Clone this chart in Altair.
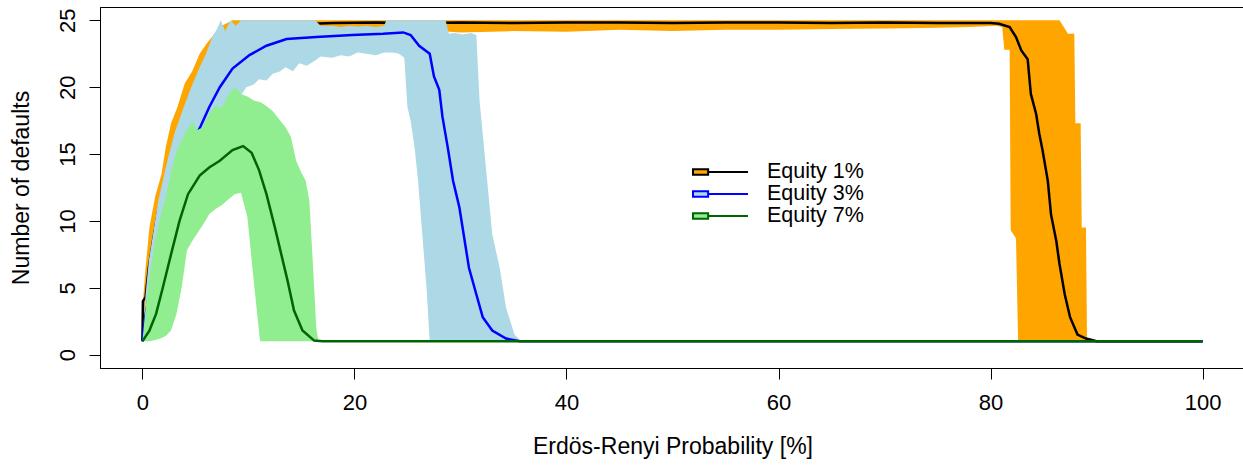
import altair as alt
import pandas as pd

SERIES = ["Equity 1%", "Equity 3%", "Equity 7%"]
BAND_COLORS = ["#FFA500", "#ADD8E6", "#90EE90"]
LINE_COLORS = ["#000000", "#0000FF", "#006400"]
X_TICKS = [0, 20, 40, 60, 80, 100]
Y_TICKS = [0, 5, 10, 15, 20, 25]
X_TITLE = "Erdös-Renyi Probability [%]"
Y_TITLE = "Number of defaults"

# ---- Equity 1% : band (orange) ----
eq1_band_x = [0, 0.05, 0.3, 0.66, 1.2, 1.8, 2.2, 2.7, 3.3, 4.0, 4.7, 5.4, 6.1, 6.8, 7.5, 8.5,
              10, 12, 14, 17, 20, 24, 28, 30, 35, 40, 45, 50, 55, 60, 65, 70, 75, 78, 80.5,
              81.1, 81.3, 81.8, 81.9, 82.4, 82.6, 86.5, 87.0, 87.3, 87.9, 88.0, 88.5, 88.6,
              89.0, 89.1, 100]
eq1_band_lo = [1, 1.5, 2, 3.5, 5, 7, 8.5, 10.5, 12.5, 15, 17, 18.5, 19.5, 20.5, 21.3, 22,
               22.8, 23.2, 23.5, 23.8, 24.0, 24.1, 24.2, 24.1, 24.2, 24.15, 24.3, 24.2, 24.3,
               24.3, 24.35, 24.4, 24.45, 24.5, 24.6,
               24.5, 22.8, 22.8, 9.3, 8.7, 1, 1, 1, 1, 1, 1, 1, 1,
               1, 1, 1]
eq1_band_hi = [1, 4, 6.5, 9.5, 11.8, 13.5, 15.5, 17.3, 18.5, 20.3, 21.2, 22.5, 23.3, 24.0, 24.6, 25,
               25, 25, 25, 25, 25, 25, 25, 25, 25, 25, 25, 25, 25, 25, 25, 25, 25, 25, 25,
               25, 25, 25, 25, 25, 25, 25, 24.4, 24.0, 24.0, 17.3, 17.3, 9.5,
               9.5, 1, 1]
# ---- Equity 1% : median line (black) ----
eq1_line_x = [0, 0.05, 0.3, 0.6, 1.0, 1.5, 2.2, 3.0, 3.8, 4.6, 5.4, 6.6, 7.4, 8.3, 9.0, 10,
              13, 16, 18, 22, 26, 30, 35, 40, 45, 50, 55, 60, 65, 70, 75, 80.0, 80.8, 81.8,
              82.4, 82.9, 83.5, 83.8, 84.3, 84.6, 84.9, 85.4, 85.7, 86.2, 86.5, 87.0, 87.5,
              88.2, 89.0, 90.0, 100]
eq1_line_y = [1, 4, 4.3, 6.5, 8.5, 10.8, 13.2, 16.0, 17.8, 19.5, 21.0, 23.0, 23.8, 24.1, 24.3, 24.4,
              24.6, 24.75, 24.8, 24.85, 24.8, 24.85, 24.8, 24.85, 24.85, 24.8, 24.85, 24.85, 24.8,
              24.85, 24.8, 24.8, 24.75, 24.5,
              23.75, 22.75, 22.1, 19.5, 18.0, 16.5, 15.3, 13.0, 10.5, 8.5, 6.8, 4.5, 2.8,
              1.5, 1.2, 1.0, 1.0]

# ---- Equity 3% : band (light blue) ----
eq3_band_x = [0, 0.3, 0.6, 1.0, 1.5, 2.2, 3.0, 3.8, 4.6, 5.4, 6.0, 6.6, 7.0, 7.4, 7.8, 8.3,
              8.8, 9.3, 9.8, 10.5, 11.0, 11.7, 12.3, 13.0, 13.5, 14.2, 14.8, 15.5, 16.3, 16.8,
              17.9, 18.7, 19.5, 20.3, 21.1, 22.0, 22.8, 23.0, 23.6, 24.2, 24.7, 25.0, 25.3,
              25.7, 26.0, 26.4, 26.8, 27.1, 28.6, 28.9, 29.5, 30.2, 31.0, 31.5, 31.8, 32.4,
              33.0, 33.7, 34.3, 35.1, 35.7, 100]
eq3_band_lo = [1, 1, 1.2, 1.5, 2, 3, 5, 8, 11, 13, 14.5, 15.5, 16.3, 17, 17.5, 18.3,
               18.8, 19.4, 20.0, 20.2, 20.6, 20.5, 21.0, 21.2, 21.5, 21.2, 21.8, 21.6, 22.0, 22.3,
               22.2, 22.4, 22.3, 22.6, 22.5, 22.4, 22.6, 22.6, 22.6, 22.5, 22.2, 18.5, 17.5,
               15.3, 13.0, 9.0, 5.0, 1.0, 1, 1, 1, 1, 1, 1, 1, 1,
               1, 1, 1, 1, 1, 1]
eq3_band_hi = [1, 4.5, 7, 9, 11.5, 14, 16.5, 18.3, 20.0, 21.5, 22.5, 23.8, 24.3, 25, 24.2, 25,
               24.6, 25, 25, 25, 25, 25, 25, 25, 25, 25, 25, 25, 25, 24.6,
               24.6, 24.5, 24.6, 24.55, 24.6, 24.5, 24.6, 25, 25, 25, 25, 25, 25,
               25, 25, 25, 25, 25, 25, 24.0, 24.05, 23.95, 24.05, 23.9, 19.0, 14.0,
               9.0, 6.5, 3.5, 1.5, 1.0, 1.0]
# ---- Equity 3% : median line (blue) ----
eq3_line_x = [0, 0.3, 1, 2, 3, 4, 5, 5.5, 6.3, 7.3, 8.5, 10.1, 11.7, 13.6, 16.4, 19.8, 22.7,
              24.6, 25.3, 26.1, 27.1, 27.5, 28.0, 28.3, 28.8, 29.3, 29.9, 30.4, 30.8, 31.5,
              32.1, 33.0, 34.3, 35.6, 100]
eq3_line_y = [1, 3, 6, 10, 12.5, 14.5, 16.3, 17.1, 18.5, 20.0, 21.4, 22.4, 23.1, 23.6, 23.75, 23.9, 24.0,
              24.1, 23.9, 23.1, 22.5, 20.8, 19.8, 17.8, 15.5, 13.0, 11.0, 8.5, 6.5, 4.5,
              2.8, 1.8, 1.2, 1.0, 1.0]

# ---- Equity 7% : band (light green) ----
eq7_band_x = [0, 0.3, 0.7, 1.2, 1.7, 2.2, 2.7, 3.2, 3.7, 4.2, 4.7, 5.2, 5.7, 6.3, 6.9, 7.5,
              8.1, 8.7, 9.3, 9.9, 10.5, 11.1, 11.7, 12.3, 12.9, 13.5, 14.0, 14.5, 15.0, 15.4,
              15.75, 16.1, 16.4, 16.6, 100]
eq7_band_lo = [1, 1, 1, 1.1, 1.2, 1.4, 1.8, 3.0, 5.0, 7.8, 8.5, 9.1, 9.7, 10.5, 10.9, 11.2,
               11.6, 12.0, 12.1, 10.3, 5.5, 1.0, 1, 1, 1, 1, 1, 1, 1, 1,
               1, 1, 1, 1, 1]
eq7_band_hi = [1, 3.5, 6.0, 8.5, 10.3, 11.8, 13.6, 15.2, 16.0, 16.8, 17.4, 16.8, 17.0, 18.0, 18.6, 18.5,
               19.4, 20.0, 19.5, 19.3, 19.0, 18.9, 18.6, 18.2, 17.6, 17.0, 16.3, 14.5, 13.6, 13.0,
               11.5, 6.5, 2.0, 1.0, 1.0]
# ---- Equity 7% : median line (dark green) ----
eq7_line_x = [0, 0.66, 1.29, 1.92, 2.7, 3.5, 4.3, 5.4, 6.3, 7.3, 8.5, 9.5, 10.3, 11.0, 11.7,
              12.5, 13.1, 13.7, 14.3, 15.1, 16.2, 17, 100]
eq7_line_y = [1, 1.8, 3.05, 5.0, 7.5, 10.0, 12.0, 13.4, 14.0, 14.5, 15.3, 15.6, 15.1, 13.8, 12.0,
              9.5, 7.5, 5.5, 3.3, 1.8, 1.05, 1, 1]

bands = [(eq1_band_x, eq1_band_lo, eq1_band_hi),
         (eq3_band_x, eq3_band_lo, eq3_band_hi),
         (eq7_band_x, eq7_band_lo, eq7_band_hi)]
lines = [(eq1_line_x, eq1_line_y), (eq3_line_x, eq3_line_y), (eq7_line_x, eq7_line_y)]

FONT = "Liberation Sans"
xscale = alt.Scale(domain=[-4, 104], nice=False, zero=False)
yscale = alt.Scale(domain=[-1, 26], nice=False, zero=False)
fill_scale = alt.Scale(domain=SERIES, range=BAND_COLORS)
stroke_scale = alt.Scale(domain=SERIES, range=LINE_COLORS)

SYMBOL = "M-1,-0.1L-0.45,-0.1L-0.45,0.1L-1,0.1Z M-0.45,0L1,0"


def make_legend():
    return alt.Legend(
        title=None, orient="none", legendX=592, legendY=155, padding=0,
        symbolType=SYMBOL, symbolSize=3025, symbolStrokeWidth=2, symbolOpacity=1,
        labelFontSize=21.5, labelFont=FONT, labelColor="black", labelOffset=18,
        clipHeight=20, rowPadding=0,
    )


def x_axis():
    return alt.Axis(orient="bottom", values=X_TICKS, format="d", tickSize=11, labelFontSize=22,
                    labelPadding=13, labelBaseline="top", title=X_TITLE, titleFontSize=23,
                    titleFontWeight="normal", titleBaseline="alphabetic", titleY=85, grid=False)


def y_axis():
    return alt.Axis(orient="left", values=Y_TICKS, format="d", tickSize=11, labelFontSize=22,
                    labelAngle=270, labelAlign="center", labelBaseline="alphabetic", labelPadding=15,
                    title=Y_TITLE, titleFontSize=23, titleFontWeight="normal", titleAngle=270,
                    titleAlign="center", titleBaseline="alphabetic", titleX=-72, titleY=180.5,
                    grid=False)


layers = []
for i, name in enumerate(SERIES):
    bx, blo, bhi = bands[i]
    assert len(bx) == len(blo) == len(bhi), name
    band_df = pd.DataFrame({"series": name, "x": bx, "lo": blo, "hi": bhi})
    lx, ly = lines[i]
    assert len(lx) == len(ly), name
    line_df = pd.DataFrame({"series": name, "x": lx, "y": ly})

    area = alt.Chart(band_df).mark_area(opacity=1, interpolate="linear").encode(
        x=alt.X("x:Q", scale=xscale, axis=x_axis()),
        y=alt.Y("lo:Q", scale=yscale, axis=y_axis()),
        y2="hi:Q",
        fill=alt.Fill("series:N", scale=fill_scale, legend=make_legend()),
    )
    line = alt.Chart(line_df).mark_line(strokeWidth=2.5, interpolate="linear").encode(
        x=alt.X("x:Q", scale=xscale, axis=x_axis()),
        y=alt.Y("y:Q", scale=yscale, axis=y_axis()),
        stroke=alt.Stroke("series:N", scale=stroke_scale, legend=make_legend()),
    )
    layers += [area, line]

chart = alt.layer(*layers).properties(
    width=1145, height=361,
    autosize=alt.AutoSizeParams(type="none"),
    padding={"left": 100, "top": 7, "right": -2, "bottom": 98},
    background="white",
).configure(font=FONT).configure_view(stroke="black", strokeWidth=1).configure_axis(
    domainColor="black", tickColor="black", labelColor="black", titleColor="black",
    domainWidth=1, tickWidth=1, labelFont=FONT, titleFont=FONT,
)

chart.save("out.html", embed_options={"renderer": "svg", "actions": False})
